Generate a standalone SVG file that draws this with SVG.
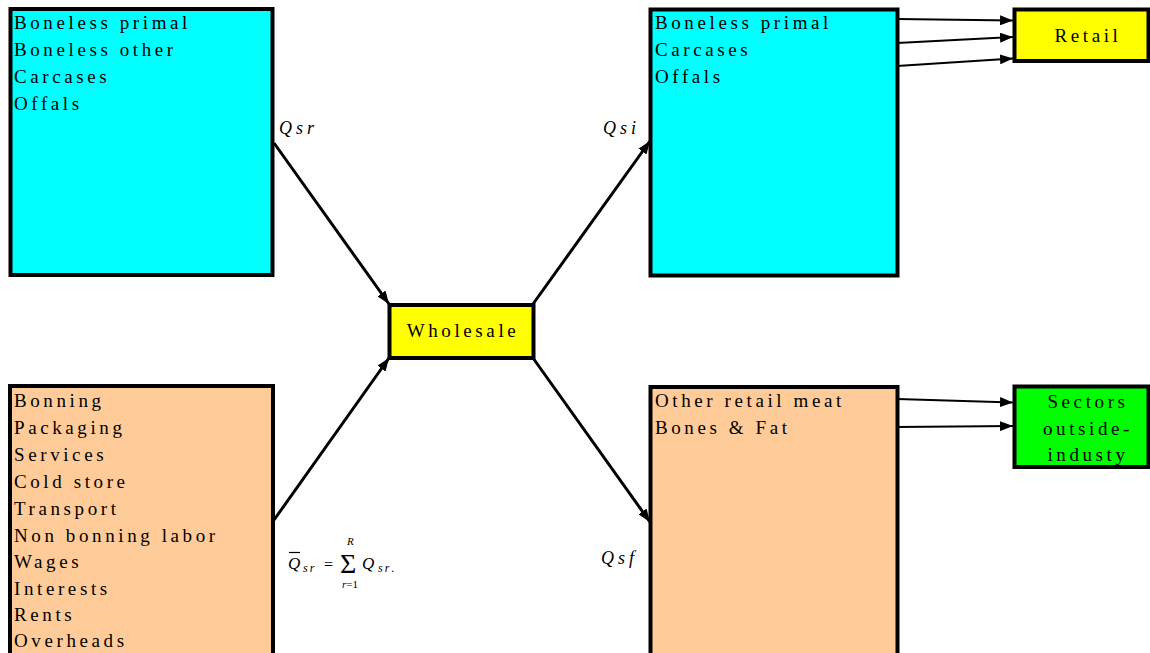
<svg xmlns="http://www.w3.org/2000/svg" width="1150" height="653" viewBox="0 0 1150 653">
<style>
.box{stroke:#000;stroke-width:4}
.cyan{fill:#00FFFF}
.peach{fill:#FFCC99}
.yellow{fill:#FFFF00}
.green{fill:#00FF00}
.t{font-family:"Liberation Serif","Times New Roman",serif;font-size:19px;letter-spacing:3.6px;fill:#000}
.c{text-anchor:middle}
.lab{font-family:"Liberation Serif","Times New Roman",serif;font-size:18px;font-style:italic;letter-spacing:4px;fill:#000}
.m{font-family:"Liberation Serif","Times New Roman",serif;fill:#000}
.i{font-style:italic}
.conn{stroke:#000;fill:none}
.thick{stroke-width:3}
.thin{stroke-width:2}
</style>
<defs>
<marker id="ah" markerUnits="userSpaceOnUse" markerWidth="13" markerHeight="10" refX="13" refY="5" orient="auto">
<path d="M0,0 L13,5 L0,10 z" fill="#000"/>
</marker>
</defs>
<rect width="1150" height="653" fill="#fff"/>
<g id="supply-products">
<rect class="box cyan" x="10.5" y="9" width="262" height="266"/>
<text class="t" x="14" y="29">Boneless primal</text>
<text class="t" x="14" y="56">Boneless other</text>
<text class="t" x="14" y="83">Carcases</text>
<text class="t" x="14" y="110">Offals</text>
</g>
<g id="supply-costs">
<rect class="box peach" x="10" y="386" width="263" height="280"/>
<text class="t" x="14" y="407">Bonning</text>
<text class="t" x="14" y="434">Packaging</text>
<text class="t" x="14" y="461">Services</text>
<text class="t" x="14" y="488">Cold store</text>
<text class="t" x="14" y="515">Transport</text>
<text class="t" x="14" y="542">Non bonning labor</text>
<text class="t" x="14" y="568">Wages</text>
<text class="t" x="14" y="595">Interests</text>
<text class="t" x="14" y="621">Rents</text>
<text class="t" x="14" y="647">Overheads</text>
</g>
<g id="wholesale">
<rect class="box yellow" x="389.5" y="305" width="144" height="53"/>
<text class="t c" x="463" y="337">Wholesale</text>
</g>
<g id="retail-products">
<rect class="box cyan" x="650.5" y="9.5" width="247" height="266"/>
<text class="t" x="655" y="29">Boneless primal</text>
<text class="t" x="655" y="56">Carcases</text>
<text class="t" x="655" y="83">Offals</text>
</g>
<g id="other-products">
<rect class="box peach" x="650.5" y="387" width="247" height="280"/>
<text class="t" x="655" y="407">Other retail meat</text>
<text class="t" x="655" y="434">Bones &amp; Fat</text>
</g>
<g id="retail">
<rect class="box yellow" x="1014.5" y="9.5" width="134" height="51.5"/>
<text class="t c" x="1088" y="42">Retail</text>
</g>
<g id="sectors">
<rect class="box green" x="1014.5" y="386.5" width="134" height="80.5"/>
<text class="t c" x="1088" y="408">Sectors</text>
<text class="t c" x="1088" y="435">outside-</text>
<text class="t c" x="1088" y="461">industy</text>
</g>
<g id="labels">
<text class="lab" x="279" y="134">Qsr</text>
<text class="lab" x="603" y="134">Qsi</text>
<text class="lab" x="601" y="564">Qsf</text>
<g id="formula">
<line x1="289" y1="552.5" x2="300" y2="552.5" stroke="#000" stroke-width="1.2"/>
<text class="m i" x="288" y="569" font-size="17">Q</text>
<text class="m i" x="303" y="572" font-size="12" letter-spacing="2">sr</text>
<text class="m" x="324" y="570" font-size="16">=</text>
<text class="m" x="340" y="573" font-size="28">Σ</text>
<text class="m i" x="347" y="545" font-size="11">R</text>
<text class="m" x="342" y="588" font-size="11"><tspan class="i">r</tspan>=1</text>
<text class="m i" x="362" y="569" font-size="17">Q</text>
<text class="m" x="378" y="572" font-size="12" letter-spacing="2"><tspan class="i">sr</tspan>.</text>
</g>
</g>
<g id="connectors">
<line class="conn thick" x1="274" y1="143" x2="389" y2="304" marker-end="url(#ah)"/>
<line class="conn thick" x1="274" y1="520" x2="389" y2="358" marker-end="url(#ah)"/>
<line class="conn thick" x1="533" y1="304" x2="650" y2="141" marker-end="url(#ah)"/>
<line class="conn thick" x1="533" y1="358" x2="650" y2="522" marker-end="url(#ah)"/>
<line class="conn thin" x1="897" y1="19" x2="1013" y2="20.5" marker-end="url(#ah)"/>
<line class="conn thin" x1="897" y1="43" x2="1013" y2="37" marker-end="url(#ah)"/>
<line class="conn thin" x1="897" y1="66" x2="1013" y2="58.5" marker-end="url(#ah)"/>
<line class="conn thin" x1="897" y1="399" x2="1013" y2="402.5" marker-end="url(#ah)"/>
<line class="conn thin" x1="897" y1="427" x2="1013" y2="426" marker-end="url(#ah)"/>
</g>
</svg>
